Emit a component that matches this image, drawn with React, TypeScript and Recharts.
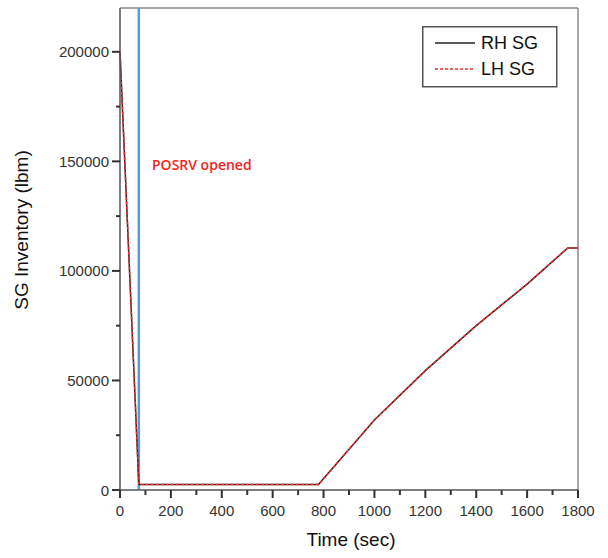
import React from "react";
import {
    LineChart,
    Line,
    XAxis,
    YAxis,
    ReferenceLine,
} from "recharts";

// time (sec) and SG inventory (lbm)
const TIME = [0, 74, 780, 1000, 1200, 1400, 1600, 1760, 1800];
const RH_SG = [200000, 2500, 2500, 32000, 54500, 75000, 94000, 110500, 110500];
const LH_SG = [200000, 2500, 2500, 32000, 54500, 75000, 94000, 110500, 110500];

const X_TICKS = [0, 100, 200, 300, 400, 500, 600, 700, 800, 900, 1000, 1100, 1200, 1300, 1400, 1500, 1600, 1700, 1800];
const Y_TICKS = [0, 25000, 50000, 75000, 100000, 125000, 150000, 175000, 200000];

const POSRV_TIME = 74;

const SERIES = [
    { key: "rh", name: "RH SG", color: "#222", dash: undefined },
    { key: "lh", name: "LH SG", color: "#ff2a2a", dash: "3 2" },
];

const data = TIME.map((t, i) => ({ t, rh: RH_SG[i], lh: LH_SG[i] }));

const AXIS = "#555";
const FONT = "'Liberation Sans', Arial, sans-serif";

// tick marks drawn as thin rects (major ones labelled)
function XTick(props: any) {
    const { x, y, payload } = props;
    const major = payload.value % 200 === 0;
    return (
        <g>
            <rect x={x - 1} y={y} width={2} height={major ? 8 : 5} fill="#333" />
            {major && (
                <text x={x} y={y + 26} textAnchor="middle" fontSize={15} fill="#333" fontFamily={FONT}>
                    {payload.value}
                </text>
            )}
        </g>
    );
}

function YTick(props: any) {
    const { x, y, payload } = props;
    const major = payload.value % 50000 === 0;
    const len = major ? 8 : 4;
    return (
        <g>
            <rect x={x - len} y={y - 1} width={len} height={2} fill="#333" />
            {major && (
                <text x={x - 11} y={y + 5.5} textAnchor="end" fontSize={15} fill="#333" fontFamily={FONT}>
                    {payload.value}
                </text>
            )}
        </g>
    );
}

export default function App() {
    return (
        <div style={{ position: "absolute", left: 0, top: 0, width: 608, height: 558, background: "#fff" }}>
            <LineChart
                width={608}
                height={558}
                data={data}
                margin={{ top: 8, right: 30, left: 0, bottom: 0 }}
            >
                <XAxis
                    dataKey="t"
                    type="number"
                    domain={[0, 1800]}
                    ticks={X_TICKS}
                    interval={0}
                    height={68}
                    tickSize={0}
                    tickMargin={0}
                    tick={<XTick />}
                    axisLine={{ stroke: AXIS, strokeWidth: 1.5 }}
                />
                <YAxis
                    type="number"
                    domain={[0, 220000]}
                    ticks={Y_TICKS}
                    interval={0}
                    width={120}
                    tickSize={0}
                    tickMargin={0}
                    tick={<YTick />}
                    axisLine={{ stroke: AXIS, strokeWidth: 1.5 }}
                />
                <ReferenceLine y={220000} stroke="#888" strokeWidth={1.5} />
                <ReferenceLine x={1800} stroke="#888" strokeWidth={1.5} />
                <ReferenceLine x={POSRV_TIME} stroke="#5B9BD5" strokeWidth={2.5} />
                {SERIES.map((s) => (
                    <Line
                        key={s.key}
                        dataKey={s.key}
                        name={s.name}
                        stroke={s.color}
                        strokeWidth={1.5}
                        strokeDasharray={s.dash}
                        dot={false}
                        isAnimationActive={false}
                    />
                ))}
            </LineChart>
            <svg
                width={608}
                height={558}
                style={{ position: "absolute", left: 0, top: 0, pointerEvents: "none" }}
            >
                {/* legend */}
                <rect x={422.75} y={26.75} width={134} height={60} fill="#fff" stroke={AXIS} strokeWidth={1.5} />
                {SERIES.map((s, i) => {
                    const cy = 43 + i * 26;
                    return (
                        <g key={s.key}>
                            <line x1={435} x2={475} y1={cy} y2={cy} stroke={s.color} strokeWidth={1.3} strokeDasharray={s.dash} />
                            <text x={481} y={cy + 6} fontSize={18} fill="#111" fontFamily={FONT}>
                                {s.name}
                            </text>
                        </g>
                    );
                })}
                <text x={152} y={170} fontSize={14} fontWeight={600} fill="#ff2020" fontFamily="'Open Sans', sans-serif">
                    POSRV opened
                </text>
                <text x={351} y={546} textAnchor="middle" fontSize={19} fill="#111" fontFamily={FONT}>
                    Time (sec)
                </text>
                <text
                    x={0}
                    y={0}
                    transform="translate(28, 230) rotate(-90)"
                    textAnchor="middle"
                    fontSize={19}
                    fill="#111"
                    fontFamily={FONT}
                >
                    SG Inventory (lbm)
                </text>
            </svg>
        </div>
    );
}
